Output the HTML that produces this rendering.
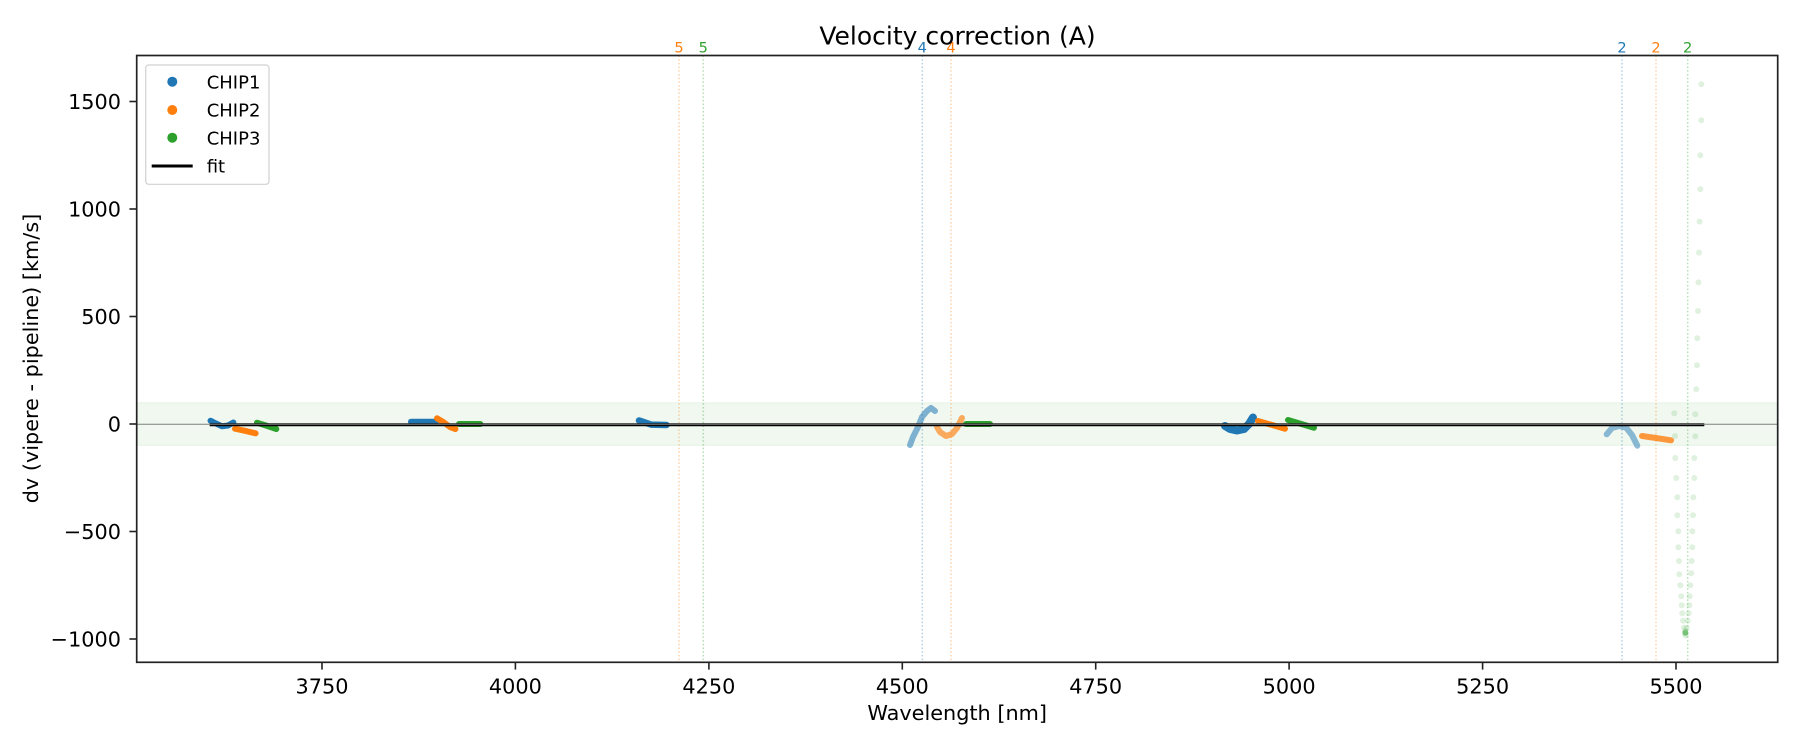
<!DOCTYPE html>
<html>
<head>
<meta charset="utf-8">
<style>
  html,body{margin:0;padding:0;background:#fff;}
  svg{display:block;}
  text{font-family:"DejaVu Sans","Liberation Sans",sans-serif;fill:#000;}
</style>
</head>
<body>
<svg width="1800" height="750" viewBox="0 0 1800 750" xmlns="http://www.w3.org/2000/svg">
  <rect x="0" y="0" width="1800" height="750" fill="#fff"/>

  <rect x="136.7" y="402.8" width="1641" height="42.6" fill="#2ca02c" fill-opacity="0.07"/>
  <line x1="136.7" y1="402.8" x2="1777.7" y2="402.8" stroke="#2ca02c" stroke-opacity="0.08" stroke-width="1"/>
  <line x1="136.7" y1="445.4" x2="1777.7" y2="445.4" stroke="#2ca02c" stroke-opacity="0.08" stroke-width="1"/>

  <g stroke-width="1.5" stroke-dasharray="1.5 2.2" stroke-opacity="0.35">
    <line x1="679" y1="55.5" x2="679" y2="662.3" stroke="#ff7f0e"/>
    <line x1="703.3" y1="55.5" x2="703.3" y2="662.3" stroke="#2ca02c"/>
    <line x1="922.3" y1="55.5" x2="922.3" y2="662.3" stroke="#1f77b4"/>
    <line x1="951" y1="55.5" x2="951" y2="662.3" stroke="#ff7f0e"/>
    <line x1="1622" y1="55.5" x2="1622" y2="662.3" stroke="#1f77b4"/>
    <line x1="1656" y1="55.5" x2="1656" y2="662.3" stroke="#ff7f0e"/>
    <line x1="1687.7" y1="55.5" x2="1687.7" y2="662.3" stroke="#2ca02c"/>
  </g>

  <g font-size="14.6" text-anchor="middle">
    <text x="679" y="52.7" style="fill:#ff7f0e">5</text>
    <text x="703.3" y="52.7" style="fill:#2ca02c">5</text>
    <text x="922.3" y="52.7" style="fill:#1f77b4">4</text>
    <text x="951" y="52.7" style="fill:#ff7f0e">4</text>
    <text x="1622" y="52.7" style="fill:#1f77b4">2</text>
    <text x="1656" y="52.7" style="fill:#ff7f0e">2</text>
    <text x="1687.7" y="52.7" style="fill:#2ca02c">2</text>
  </g>

  <g fill="#2ca02c" fill-opacity="0.15">
    <circle cx="1701.3" cy="84.3" r="3"/>
    <circle cx="1701.3" cy="120.3" r="3"/>
    <circle cx="1700.3" cy="155.3" r="3"/>
    <circle cx="1700.3" cy="189.3" r="3"/>
    <circle cx="1699.6" cy="221.6" r="3"/>
    <circle cx="1699" cy="252.6" r="3"/>
    <circle cx="1698.5" cy="282.4" r="3"/>
    <circle cx="1698" cy="311" r="3"/>
    <circle cx="1697.3" cy="338.3" r="3"/>
    <circle cx="1697" cy="365.3" r="3"/>
    <circle cx="1696.3" cy="389.3" r="3"/>
    <circle cx="1695.3" cy="414.3" r="3"/>
    <circle cx="1695.3" cy="436.3" r="3"/>
    <circle cx="1694.3" cy="458" r="3"/>
    <circle cx="1694.3" cy="478" r="3"/>
    <circle cx="1693.3" cy="497.3" r="3"/>
    <circle cx="1693" cy="515.3" r="3"/>
    <circle cx="1692.3" cy="531.3" r="3"/>
    <circle cx="1692.3" cy="547.3" r="3"/>
    <circle cx="1691.7" cy="561" r="3"/>
    <circle cx="1691.3" cy="573.3" r="3"/>
    <circle cx="1690.3" cy="585.3" r="3"/>
    <circle cx="1689.7" cy="596.3" r="3"/>
    <circle cx="1689.3" cy="605.3" r="3"/>
    <circle cx="1688.7" cy="613.3" r="3"/>
    <circle cx="1687.7" cy="620.7" r="3"/>
    <circle cx="1686.7" cy="627.7" r="3"/>
    <circle cx="1685.7" cy="633.3" r="3"/>
    <circle cx="1674.3" cy="413.3" r="3"/>
    <circle cx="1675" cy="436" r="3"/>
    <circle cx="1675.3" cy="458" r="3"/>
    <circle cx="1676.3" cy="478" r="3"/>
    <circle cx="1677.3" cy="497.3" r="3"/>
    <circle cx="1677.3" cy="515.3" r="3"/>
    <circle cx="1678.3" cy="531.3" r="3"/>
    <circle cx="1678.3" cy="547.3" r="3"/>
    <circle cx="1679" cy="561" r="3"/>
    <circle cx="1679.3" cy="574.3" r="3"/>
    <circle cx="1680.3" cy="585.3" r="3"/>
    <circle cx="1681.3" cy="596.3" r="3"/>
    <circle cx="1681.7" cy="605.3" r="3"/>
    <circle cx="1682.3" cy="613.3" r="3"/>
    <circle cx="1683" cy="620.7" r="3"/>
    <circle cx="1684" cy="627.7" r="3"/>
    <circle cx="1685" cy="633.3" r="3"/>
    <circle cx="1685.2" cy="630.5" r="3"/>
    <circle cx="1685.5" cy="635.5" r="3"/>
    <circle cx="1685.3" cy="632.5" r="3" fill-opacity="0.4"/>
  </g>

  <g fill="none" stroke-linecap="round" stroke-linejoin="round">
    <polyline points="210.5,420.7 216,423.5 222,426.3 228,425.5 233.4,422.5" stroke="#1f77b4" stroke-width="6"/>
    <polyline points="235,428.7 245,430.8 255.6,433.3" stroke="#ff7f0e" stroke-width="6"/>
    <polyline points="257,422.7 266,425.5 276.3,429" stroke="#2ca02c" stroke-width="6"/>
    <polyline points="411,421.7 436,421.7" stroke="#1f77b4" stroke-width="6"/>
    <polyline points="437,418.3 444,422.5 450,427 455.4,429" stroke="#ff7f0e" stroke-width="6"/>
    <polyline points="459,424 480.3,424" stroke="#2ca02c" stroke-width="6"/>
    <polyline points="639,420.5 645,422.5 651,424.6 666.5,425" stroke="#1f77b4" stroke-width="6.5"/>
    <polyline points="910,445 913,437 918,427 922,417 927,411 931,408 935,411" stroke="#1f77b4" stroke-width="6" stroke-opacity="0.55"/>
    <polyline points="937,427 940,432 946,436 952,434 957,428 962,418" stroke="#ff7f0e" stroke-width="6" stroke-opacity="0.65"/>
    <polyline points="966,424 990,424" stroke="#2ca02c" stroke-width="6"/>
    <polyline points="1225,426 1230,429 1237,430.5 1244,429 1249,424 1253,417.5" stroke="#1f77b4" stroke-width="8"/>
    <polyline points="1258,421 1285,428.7" stroke="#ff7f0e" stroke-width="6"/>
    <polyline points="1288,420 1314,427.7" stroke="#2ca02c" stroke-width="6"/>
    <polyline points="1606.7,434.3 1612,428 1619,426 1626,427.5 1632,435 1637.3,445.7" stroke="#1f77b4" stroke-width="6" stroke-opacity="0.5"/>
    <polyline points="1642,436 1656,438 1671,440.3" stroke="#ff7f0e" stroke-width="6" stroke-opacity="0.8"/>
  </g>

  <line x1="209.7" y1="424.7" x2="1704.3" y2="424.7" stroke="#000" stroke-width="3"/>
  <line x1="136.7" y1="424.3" x2="1777.7" y2="424.3" stroke="#808080" stroke-width="1"/>

  <rect x="136.7" y="55.5" width="1641" height="606.8" fill="none" stroke="#222" stroke-width="1.7"/>

  <g stroke="#222" stroke-width="1.6">
    <line x1="129.4" y1="101.5" x2="136.7" y2="101.5"/>
    <line x1="129.4" y1="209" x2="136.7" y2="209"/>
    <line x1="129.4" y1="316.5" x2="136.7" y2="316.5"/>
    <line x1="129.4" y1="424" x2="136.7" y2="424"/>
    <line x1="129.4" y1="531.5" x2="136.7" y2="531.5"/>
    <line x1="129.4" y1="639" x2="136.7" y2="639"/>
  </g>
  <g font-size="20.8" text-anchor="end">
    <text x="121" y="109.1">1500</text>
    <text x="121" y="216.6">1000</text>
    <text x="121" y="324.1">500</text>
    <text x="121" y="431.6">0</text>
    <text x="121" y="539.1">−500</text>
    <text x="121" y="646.6">−1000</text>
  </g>

  <g stroke="#222" stroke-width="1.6">
    <line x1="322" y1="662.3" x2="322" y2="669.6"/>
    <line x1="515.4" y1="662.3" x2="515.4" y2="669.6"/>
    <line x1="708.9" y1="662.3" x2="708.9" y2="669.6"/>
    <line x1="902.3" y1="662.3" x2="902.3" y2="669.6"/>
    <line x1="1095.7" y1="662.3" x2="1095.7" y2="669.6"/>
    <line x1="1289.1" y1="662.3" x2="1289.1" y2="669.6"/>
    <line x1="1482.6" y1="662.3" x2="1482.6" y2="669.6"/>
    <line x1="1676" y1="662.3" x2="1676" y2="669.6"/>
  </g>
  <g font-size="20.8" text-anchor="middle">
    <text x="322" y="693.3">3750</text>
    <text x="515.4" y="693.3">4000</text>
    <text x="708.9" y="693.3">4250</text>
    <text x="902.3" y="693.3">4500</text>
    <text x="1095.7" y="693.3">4750</text>
    <text x="1289.1" y="693.3">5000</text>
    <text x="1482.6" y="693.3">5250</text>
    <text x="1676" y="693.3">5500</text>
  </g>

  <text x="957.2" y="720" font-size="20.8" text-anchor="middle">Wavelength [nm]</text>
  <text transform="translate(38,358.5) rotate(-90)" font-size="20.8" text-anchor="middle">dv (vipere - pipeline) [km/s]</text>
  <text x="957.5" y="44.3" font-size="25" text-anchor="middle">Velocity correction (A)</text>

  <rect x="145.7" y="65" width="123.3" height="119.3" rx="3" ry="3" fill="#fff" fill-opacity="0.8" stroke="#d0d0d0" stroke-width="1.2"/>
  <circle cx="172.3" cy="81.7" r="5" fill="#1f77b4"/>
  <circle cx="172.3" cy="110" r="5" fill="#ff7f0e"/>
  <circle cx="172.3" cy="137.7" r="5" fill="#2ca02c"/>
  <line x1="151.7" y1="166" x2="192.7" y2="166" stroke="#000" stroke-width="3"/>
  <g font-size="18">
    <text x="206.7" y="88.3">CHIP1</text>
    <text x="206.7" y="116.6">CHIP2</text>
    <text x="206.7" y="144.3">CHIP3</text>
    <text x="206.7" y="172.6">fit</text>
  </g>
</svg>
</body>
</html>
